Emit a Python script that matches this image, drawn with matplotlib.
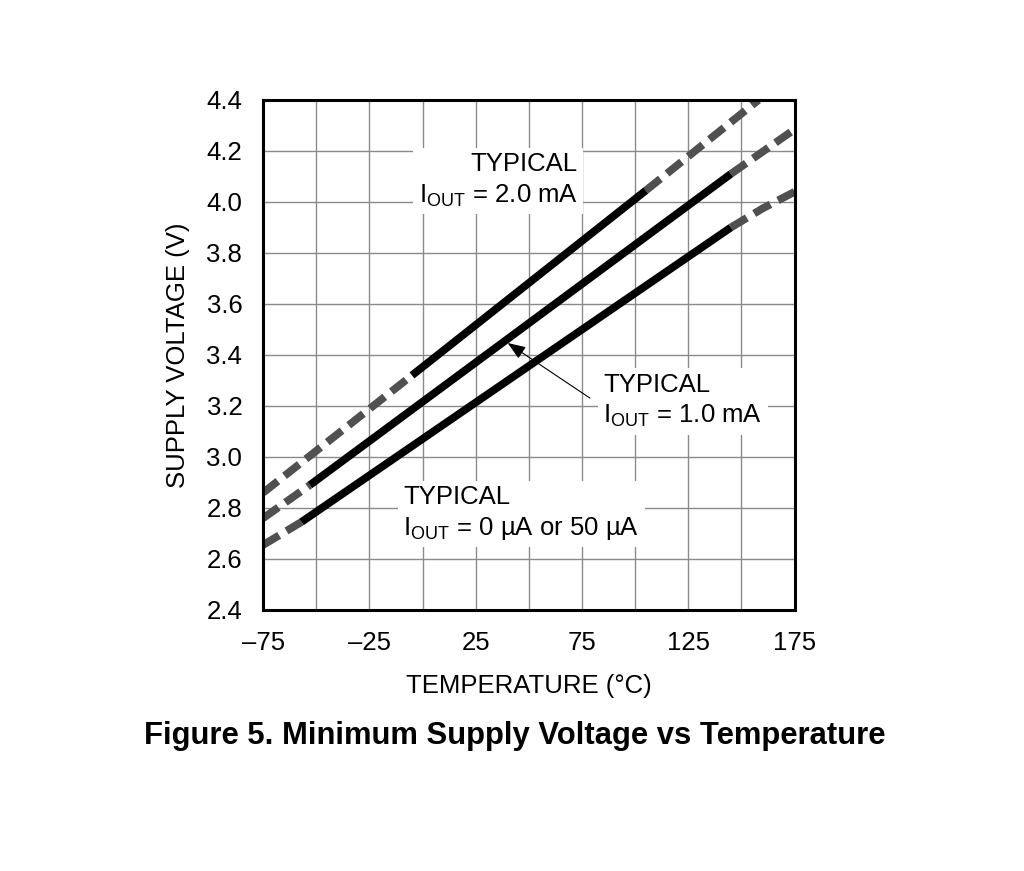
import numpy as np
import matplotlib
matplotlib.use('Agg')
import matplotlib.pyplot as plt

plt.rcParams['font.family'] = ['Liberation Sans', 'DejaVu Sans']

# Data (temperature in degC, voltage in V)
temp_2ma = [-75, -5, 105, 158]
volt_2ma = [2.86, 3.32, 4.045, 4.40]
solid_2ma = (-5, 105)

temp_1ma = [-75, -53, 145, 175]
volt_1ma = [2.76, 2.89, 4.11, 4.285]
solid_1ma = (-53, 145)

temp_0ma = [-75, -57, 145, 160, 175]
volt_0ma = [2.655, 2.745, 3.90, 3.975, 4.04]
solid_0ma = (-57, 145)

x_ticks = [-75, -50, -25, 0, 25, 50, 75, 100, 125, 150, 175]
x_labels = ['–75', '', '–25', '', '25', '', '75', '', '125', '', '175']
y_ticks = [2.4, 2.6, 2.8, 3.0, 3.2, 3.4, 3.6, 3.8, 4.0, 4.2, 4.4]

fig = plt.figure(figsize=(10.24, 8.71), dpi=100)
ax = fig.add_axes([0.257, 0.2997, 0.519, 0.5855])

lw = 5.6
for t, v, (lo, hi) in [(temp_2ma, volt_2ma, solid_2ma),
                       (temp_1ma, volt_1ma, solid_1ma),
                       (temp_0ma, volt_0ma, solid_0ma)]:
    t = np.array(t)
    v = np.array(v)
    left = t <= lo
    right = t >= hi
    mid = (t >= lo) & (t <= hi)
    for m in (left, right):
        ax.plot(t[m], v[m], color='#505050', lw=lw, dashes=(2.4, 1.1),
                solid_capstyle='butt', dash_capstyle='butt', zorder=3)
    ax.plot(t[mid], v[mid], color='black', lw=lw, solid_capstyle='butt', zorder=4)

ax.set_xlim(-75, 175)
ax.set_ylim(2.4, 4.4)
ax.set_xticks(x_ticks)
ax.set_xticklabels(x_labels)
ax.set_yticks(y_ticks)
ax.set_yticklabels(['%.1f' % y for y in y_ticks])
ax.tick_params(length=0, labelsize=18.5, pad=15)
ax.grid(True, color='#8a8a8a', lw=1.0, zorder=1)
for s in ax.spines.values():
    s.set_linewidth(2.2)
    s.set_zorder(5)

ax.set_xlabel('TEMPERATURE (°C)', fontsize=18.5, labelpad=14)
ax.set_ylabel('SUPPLY VOLTAGE (V)', fontsize=18.5, labelpad=12)

box = dict(facecolor='white', edgecolor='none', pad=4)
ax.text(73, 4.085, 'TYPICAL\nI$_\\mathregular{OUT}$ = 2.0 mA', ha='right', va='center',
        multialignment='right', fontsize=18.5, linespacing=1.3, bbox=box, zorder=2)
ax.text(85, 3.22, 'TYPICAL\nI$_\\mathregular{OUT}$ = 1.0 mA', ha='left', va='center',
        multialignment='left', fontsize=18.5, linespacing=1.3, bbox=box, zorder=2)
ax.text(-9, 2.78, 'TYPICAL\nI$_\\mathregular{OUT}$ = 0 µA or 50 µA', ha='left', va='center',
        multialignment='left', fontsize=18.5, linespacing=1.3, bbox=box, zorder=2)

ax.annotate('', xy=(40, 3.447), xytext=(78.7, 3.231),
            arrowprops=dict(arrowstyle='-|>,head_length=1.1,head_width=0.42',
                            color='black', lw=0.8, shrinkA=0, shrinkB=0), zorder=6)

fig.text(0.503, 0.155, 'Figure 5. Minimum Supply Voltage vs Temperature',
         ha='center', va='center', fontsize=22.3, fontweight='bold')

fig.savefig('out.png', dpi=100, facecolor='white')
